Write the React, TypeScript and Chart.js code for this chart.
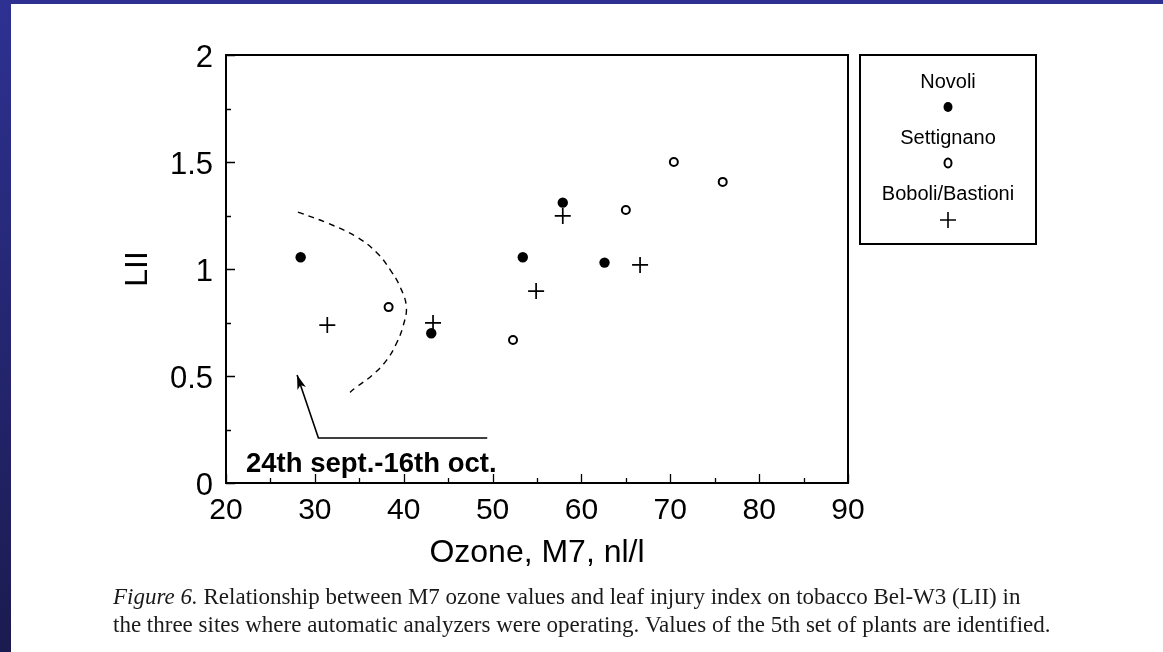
import { useEffect, useRef } from "react";
import { Chart, registerables } from "chart.js";

Chart.register(...registerables);

// ---------- data ----------
const novoliX = [28.4, 43.1, 53.4, 57.9, 62.6];
const novoliY = [1.055, 0.70, 1.055, 1.31, 1.03];

const settignanoX = [38.3, 52.3, 65.0, 70.4, 75.9];
const settignanoY = [0.822, 0.668, 1.276, 1.50, 1.407];

const boboliX = [31.4, 43.3, 54.9, 57.9, 66.6];
const boboliY = [0.738, 0.748, 0.897, 1.248, 1.019];

// dashed curve enclosing the 5th set of plants
const arcX = [28.1, 31.4, 34.7, 37.0, 38.5, 39.6, 40.3, 39.9, 39.2, 38.1, 36.5, 34.7, 33.6];
const arcY = [1.266, 1.215, 1.150, 1.075, 0.995, 0.916, 0.822, 0.729, 0.654, 0.575, 0.505, 0.449, 0.411];

// arrow: horizontal line then pointer up to the curve
const arrowX = [49.4, 30.4, 28.0];
const arrowY = [0.21, 0.21, 0.505];

const annotationText = "24th sept.-16th oct.";
const annotationX = 22.25;
const annotationY = 0.051;

const xMajorTicks = [20, 30, 40, 50, 60, 70, 80, 90];
const xMinorTicks = [25, 35, 45, 55, 65, 75, 85];
const yMajorTicks = [0, 0.5, 1, 1.5, 2];
const yMinorTicks = [0.25, 0.75, 1.25, 1.75];
const yTickLabels = ["0", "0.5", "1", "1.5", "2"];

const seriesNames = ["Novoli", "Settignano", "Boboli/Bastioni"];
const xTitle = "Ozone, M7, nl/l";
const yTitle = "LII";

const captionItalic = "Figure 6.";
const captionLine1 =
  " Relationship between M7 ozone values and leaf injury index on tobacco Bel-W3 (LII) in";
const captionLine2 =
  "the three sites where automatic analyzers were operating. Values of the 5th set of plants are identified.";

const SANS = "'Liberation Sans', Arial, sans-serif";
const SERIF = "'Liberation Serif', 'Times New Roman', serif";

const toPts = (xs: number[], ys: number[]) => xs.map((x, i) => ({ x, y: ys[i] }));

const decorPlugin = {
  id: "decor",
  beforeDatasetsDraw(chart: any) {
    const ctx = chart.ctx;
    const { left, right, top, bottom } = chart.chartArea;
    const xs = chart.scales.x;
    const ys = chart.scales.y;
    ctx.save();
    ctx.strokeStyle = "#000";
    ctx.lineWidth = 2;
    ctx.strokeRect(left, top, right - left, bottom - top);
    ctx.lineWidth = 1.3;
    ctx.beginPath();
    xMajorTicks.forEach((v) => {
      const p = Math.round(xs.getPixelForValue(v)) + 0.5;
      ctx.moveTo(p, bottom);
      ctx.lineTo(p, bottom - 9);
    });
    xMinorTicks.forEach((v) => {
      const p = Math.round(xs.getPixelForValue(v)) + 0.5;
      ctx.moveTo(p, bottom);
      ctx.lineTo(p, bottom - 5);
    });
    yMajorTicks.forEach((v) => {
      const p = Math.round(ys.getPixelForValue(v)) + 0.5;
      ctx.moveTo(left, p);
      ctx.lineTo(left + 9, p);
    });
    yMinorTicks.forEach((v) => {
      const p = Math.round(ys.getPixelForValue(v)) + 0.5;
      ctx.moveTo(left, p);
      ctx.lineTo(left + 5, p);
    });
    ctx.stroke();
    ctx.restore();
  },
  afterDatasetsDraw(chart: any) {
    const ctx = chart.ctx;
    const { right, top } = chart.chartArea;
    const xs = chart.scales.x;
    const ys = chart.scales.y;
    ctx.save();

    // arrow head
    const n = arrowX.length;
    const tx = xs.getPixelForValue(arrowX[n - 1]);
    const ty = ys.getPixelForValue(arrowY[n - 1]);
    const fx = xs.getPixelForValue(arrowX[n - 2]);
    const fy = ys.getPixelForValue(arrowY[n - 2]);
    const ang = Math.atan2(ty - fy, tx - fx);
    const hl = 15;
    const hw = 0.3;
    ctx.fillStyle = "#000";
    ctx.beginPath();
    ctx.moveTo(tx, ty);
    ctx.lineTo(tx - hl * Math.cos(ang - hw), ty - hl * Math.sin(ang - hw));
    ctx.lineTo(tx - hl * 0.7 * Math.cos(ang), ty - hl * 0.7 * Math.sin(ang));
    ctx.lineTo(tx - hl * Math.cos(ang + hw), ty - hl * Math.sin(ang + hw));
    ctx.closePath();
    ctx.fill();

    // annotation
    ctx.font = `bold 27.5px ${SANS}`;
    ctx.textAlign = "left";
    ctx.textBaseline = "alphabetic";
    ctx.fillText(annotationText, xs.getPixelForValue(annotationX), ys.getPixelForValue(annotationY));

    // legend box
    const lx = right + 12;
    const lw = 176;
    const lh = 189;
    ctx.lineWidth = 2;
    ctx.strokeStyle = "#000";
    ctx.strokeRect(lx, top, lw, lh);
    const cx = lx + lw / 2;
    ctx.font = `20px ${SANS}`;
    ctx.textAlign = "center";
    ctx.textBaseline = "middle";
    ctx.fillText(seriesNames[0], cx, top + 27);
    ctx.beginPath();
    ctx.ellipse(cx, top + 52, 4.5, 5, 0, 0, Math.PI * 2);
    ctx.fill();
    ctx.fillText(seriesNames[1], cx, top + 83);
    ctx.lineWidth = 2;
    ctx.beginPath();
    ctx.ellipse(cx, top + 108, 3.5, 4.5, 0, 0, Math.PI * 2);
    ctx.stroke();
    ctx.fillText(seriesNames[2], cx, top + 139);
    ctx.lineWidth = 1.6;
    ctx.beginPath();
    ctx.moveTo(cx - 8, top + 165);
    ctx.lineTo(cx + 8, top + 165);
    ctx.moveTo(cx, top + 157);
    ctx.lineTo(cx, top + 173);
    ctx.stroke();

    // caption
    ctx.fillStyle = "#1a1a1a";
    ctx.textAlign = "left";
    ctx.textBaseline = "alphabetic";
    ctx.font = `italic 23px ${SERIF}`;
    const x0 = 113;
    ctx.fillText(captionItalic, x0, 604);
    const w = ctx.measureText(captionItalic).width;
    ctx.font = `23px ${SERIF}`;
    ctx.fillText(captionLine1, x0 + w, 604);
    ctx.fillText(captionLine2, x0, 632);
    ctx.restore();
  },
};

export default function App() {
  const ref = useRef<HTMLCanvasElement | null>(null);

  useEffect(() => {
    if (!ref.current) return;
    const chart = new Chart(ref.current, {
      type: "scatter",
      data: {
        datasets: [
          {
            label: "curve",
            type: "line",
            data: toPts(arcX, arcY),
            borderColor: "#000",
            borderWidth: 1.4,
            borderDash: [6, 5],
            pointRadius: 0,
            tension: 0.4,
            fill: false,
          } as any,
          {
            label: "arrow",
            type: "line",
            data: toPts(arrowX, arrowY),
            borderColor: "#000",
            borderWidth: 1.6,
            pointRadius: 0,
            tension: 0,
            fill: false,
          } as any,
          {
            label: seriesNames[0],
            data: toPts(novoliX, novoliY),
            pointStyle: "circle",
            pointRadius: 5.2,
            backgroundColor: "#000",
            borderColor: "#000",
            borderWidth: 0,
          },
          {
            label: seriesNames[1],
            data: toPts(settignanoX, settignanoY),
            pointStyle: "circle",
            pointRadius: 4,
            backgroundColor: "#fff",
            borderColor: "#000",
            borderWidth: 2,
          },
          {
            label: seriesNames[2],
            data: toPts(boboliX, boboliY),
            pointStyle: "cross",
            pointRadius: 8,
            borderColor: "#000",
            borderWidth: 1.7,
          },
        ],
      },
      options: {
        animation: false,
        responsive: false,
        devicePixelRatio: 1,
        layout: { padding: { left: 0, top: 55, right: 315, bottom: 0 } },
        plugins: { legend: { display: false }, tooltip: { enabled: false } },
        scales: {
          x: {
            type: "linear",
            min: 20,
            max: 90,
            afterFit: (s: any) => {
              s.height = 169;
            },
            grid: { display: false, drawTicks: false },
            border: { display: false },
            afterBuildTicks: (s: any) => {
              s.ticks = xMajorTicks.map((v) => ({ value: v }));
            },
            ticks: {
              color: "#000",
              padding: 10,
              maxRotation: 0,
              autoSkip: false,
              font: { family: SANS, size: 30 },
              callback: (v: any) => String(v),
            },
            title: {
              display: true,
              text: xTitle,
              color: "#000",
              font: { family: SANS, size: 32 },
              padding: { top: 0, bottom: 80 },
            },
          },
          y: {
            type: "linear",
            min: 0,
            max: 2,
            afterFit: (s: any) => {
              s.width = 226;
            },
            grid: { display: false, drawTicks: false },
            border: { display: false },
            afterBuildTicks: (s: any) => {
              s.ticks = yMajorTicks.map((v) => ({ value: v }));
            },
            ticks: {
              color: "#000",
              padding: 13,
              autoSkip: false,
              labelOffset: 3,
              font: { family: SANS, size: 31 },
              callback: (v: any) => {
                const i = yMajorTicks.indexOf(Number(v));
                return i >= 0 ? yTickLabels[i] : "";
              },
            },
            title: {
              display: true,
              text: yTitle,
              color: "#000",
              font: { family: SANS, size: 32 },
              padding: { top: 119, bottom: 0 },
            },
          },
        },
      },
      plugins: [decorPlugin],
    });
    return () => chart.destroy();
  }, []);

  return (
    <div
      style={{
        position: "fixed",
        left: 0,
        top: 0,
        width: 1163,
        height: 652,
        background: "#fff",
        overflow: "hidden",
      }}
    >
      <div
        style={{
          position: "absolute",
          left: 0,
          top: 0,
          width: 1163,
          height: 4,
          background: "#2e3192",
        }}
      />
      <div
        style={{
          position: "absolute",
          left: 0,
          top: 0,
          width: 11,
          height: 652,
          background: "linear-gradient(#2e3192, #1b1b50)",
        }}
      />
      <canvas
        ref={ref}
        width={1163}
        height={652}
        style={{ position: "absolute", left: 0, top: 0, width: 1163, height: 652 }}
      />
    </div>
  );
}
